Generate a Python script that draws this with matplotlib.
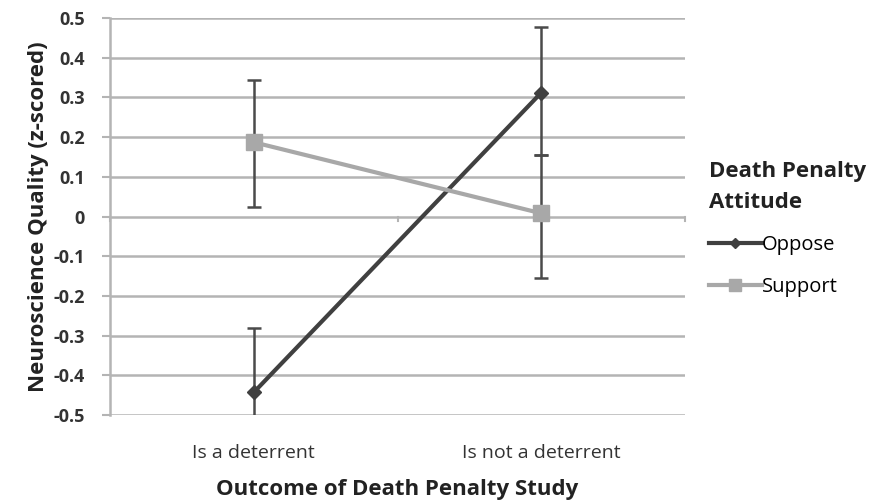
import matplotlib
matplotlib.use("Agg")
from matplotlib import pyplot as plt

categories = ["Is a deterrent", "Is not a deterrent"]
oppose = [-0.443, 0.312]
oppose_err_low = [0.163, 0.158]
oppose_err_high = [0.163, 0.165]
support = [0.187, 0.008]
support_err_low = [0.164, 0.164]
support_err_high = [0.156, 0.148]
yticks = [0.5, 0.4, 0.3, 0.2, 0.1, 0, -0.1, -0.2, -0.3, -0.4, -0.5]
ytick_labels = ["0.5", "0.4", "0.3", "0.2", "0.1", "0", "-0.1", "-0.2", "-0.3", "-0.4", "-0.5"]

plt.rcParams["font.family"] = ["Open Sans", "DejaVu Sans"]

fig = plt.figure(figsize=(8.74, 5), dpi=100)
ax = fig.add_axes([0.1259, 0.17, 0.6579, 0.794])

xs = [0, 1]
ax.set_xlim(-0.5, 1.5)
ax.set_ylim(-0.5, 0.5)

for y in yticks:
    ax.axhline(y, color="#b4b4b4", lw=1.8, zorder=0)

ax.errorbar(xs, oppose, yerr=[oppose_err_low, oppose_err_high], fmt="none",
            ecolor="#4a4a4a", elinewidth=1.8, capsize=5, capthick=1.8, zorder=2)
ax.errorbar(xs, support, yerr=[support_err_low, support_err_high], fmt="none",
            ecolor="#4a4a4a", elinewidth=1.8, capsize=5, capthick=1.8, zorder=2)

ax.plot(xs, oppose, color="#404040", lw=3, marker="D", markersize=7,
        label="Oppose", zorder=3)
ax.plot(xs, support, color="#a8a8a8", lw=3, marker="s", markersize=11,
        label="Support", zorder=3)

# small tick marks on the horizontal axis at y = 0
for xb in [-0.5, 0.5, 1.5]:
    ax.plot([xb, xb], [0, -0.012], color="#b4b4b4", lw=1.5, clip_on=False, zorder=1)

ax.set_xticks(xs)
ax.set_xticklabels(categories, fontsize=14, color="#333333")
ax.set_yticks(yticks)
ax.set_yticklabels(ytick_labels, fontsize=13, fontweight="bold", color="#333333")
ax.tick_params(axis="y", length=6, width=1.5, color="#b4b4b4", pad=12)
ax.tick_params(axis="x", length=0, pad=21)

for side in ["top", "right", "bottom"]:
    ax.spines[side].set_visible(False)
ax.spines["left"].set_color("#b4b4b4")
ax.spines["left"].set_linewidth(1.8)

ax.set_ylabel("Neuroscience Quality (z-scored)", fontsize=16, fontweight="bold",
              color="#222222", labelpad=3)
ax.set_xlabel("Outcome of Death Penalty Study", fontsize=16, fontweight="bold",
              color="#222222", labelpad=12)

leg = ax.legend(loc="upper left", bbox_to_anchor=(1.028, 0.66), frameon=False,
                title="Death Penalty\nAttitude", fontsize=14.5, handlelength=2.6,
                handletextpad=0.0, labelspacing=1.1, markerscale=0.75,
                borderaxespad=0.0, borderpad=0.4)
leg.get_title().set_fontweight("bold")
leg.get_title().set_fontsize(16)
leg.get_title().set_color("#222222")
leg.get_title().set_linespacing(1.6)
leg._legend_box.align = "left"

fig.savefig("out.png", dpi=100)
